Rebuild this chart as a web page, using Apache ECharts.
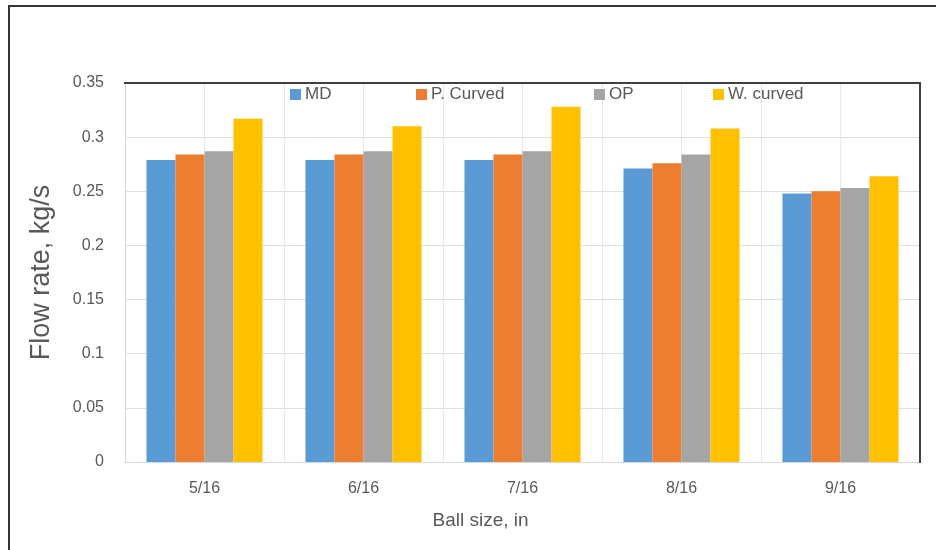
<!DOCTYPE html>
<html>
<head>
<meta charset="utf-8">
<script src="https://cdn.jsdelivr.net/npm/echarts@6/dist/echarts.min.js"></script>
<style>html,body{margin:0;padding:0;background:#fff}#c{width:936px;height:550px}</style>
</head>
<body>
<div id="c"></div>
<script>
var categories = ['5/16', '6/16', '7/16', '8/16', '9/16'];
var seriesNames = ['MD', 'P. Curved', 'OP', 'W. curved'];
var md = [0.279, 0.279, 0.279, 0.271, 0.248];
var pCurved = [0.284, 0.284, 0.284, 0.276, 0.250];
var op = [0.287, 0.287, 0.287, 0.284, 0.253];
var wCurved = [0.317, 0.310, 0.328, 0.308, 0.264];
var yTicks = [0, 0.05, 0.1, 0.15, 0.2, 0.25, 0.3, 0.35];
var colors = ['#5B9BD5', '#ED7D31', '#A5A5A5', '#FFC000'];
var values = [md, pCurved, op, wCurved];
var legendLeft = [290, 416, 594, 713];

var font = "'Liberation Sans', sans-serif";
var chart = echarts.init(document.getElementById('c'), null, {renderer: 'canvas'});
var series = seriesNames.map(function (n, i) {
  return {
    name: n, type: 'bar', data: values[i], xAxisIndex: 0,
    itemStyle: {color: colors[i]},
    barGap: '0%', barCategoryGap: '27%'
  };
});
var legends = seriesNames.map(function (n, i) {
  return {
    data: [n], left: legendLeft[i], top: 86, padding: 0, itemWidth: 11, itemHeight: 11,
    icon: 'rect', itemGap: 4,
    textStyle: {fontFamily: font, fontSize: 17, color: '#595959', padding: [0, 0, 0, -1]}
  };
});
chart.setOption({
  animation: false,
  color: colors,
  legend: legends,
  grid: {left: 125, right: 16, top: 83, bottom: 88},
  xAxis: [{
    type: 'category', data: categories,
    axisLine: {show: true, lineStyle: {color: '#d9d9d9', width: 1}},
    axisTick: {show: false},
    axisLabel: {fontFamily: font, fontSize: 16, color: '#595959', margin: 19},
    splitLine: {show: false},
    name: 'Ball size, in', nameLocation: 'middle', nameGap: 49,
    nameTextStyle: {fontFamily: font, fontSize: 19, color: '#595959', padding: [0, 84, 0, 0]}
  }, {
    type: 'value', min: 0, max: 10, interval: 1, position: 'bottom',
    axisLine: {show: false}, axisTick: {show: false}, axisLabel: {show: false},
    splitLine: {show: true, lineStyle: {color: '#e8e8e8', width: 1}}
  }],
  yAxis: {
    type: 'value', min: 0, max: 0.35, interval: 0.05,
    axisLine: {show: true, lineStyle: {color: '#d9d9d9'}},
    axisTick: {show: false},
    axisLabel: {fontFamily: font, fontSize: 16, color: '#595959', margin: 21,
      formatter: function (v) { return String(Math.round(v * 100) / 100); }},
    splitLine: {show: true, lineStyle: {color: '#e0e0e0', width: 1}},
    name: 'Flow rate, kg/s', nameLocation: 'middle', nameGap: 70,
    nameTextStyle: {fontFamily: font, fontSize: 27, color: '#595959'}
  },
  series: series,
  graphic: [
    {type: 'rect', shape: {x: 9, y: 6, width: 960, height: 600}, style: {fill: 'none', stroke: '#333', lineWidth: 2}, silent: true, z: 100},
    {type: 'polyline', shape: {points: [[124, 83], [920, 83], [920, 463]]}, style: {fill: 'none', stroke: '#404040', lineWidth: 2}, silent: true, z: 100}
  ]
});
</script>
</body>
</html>
